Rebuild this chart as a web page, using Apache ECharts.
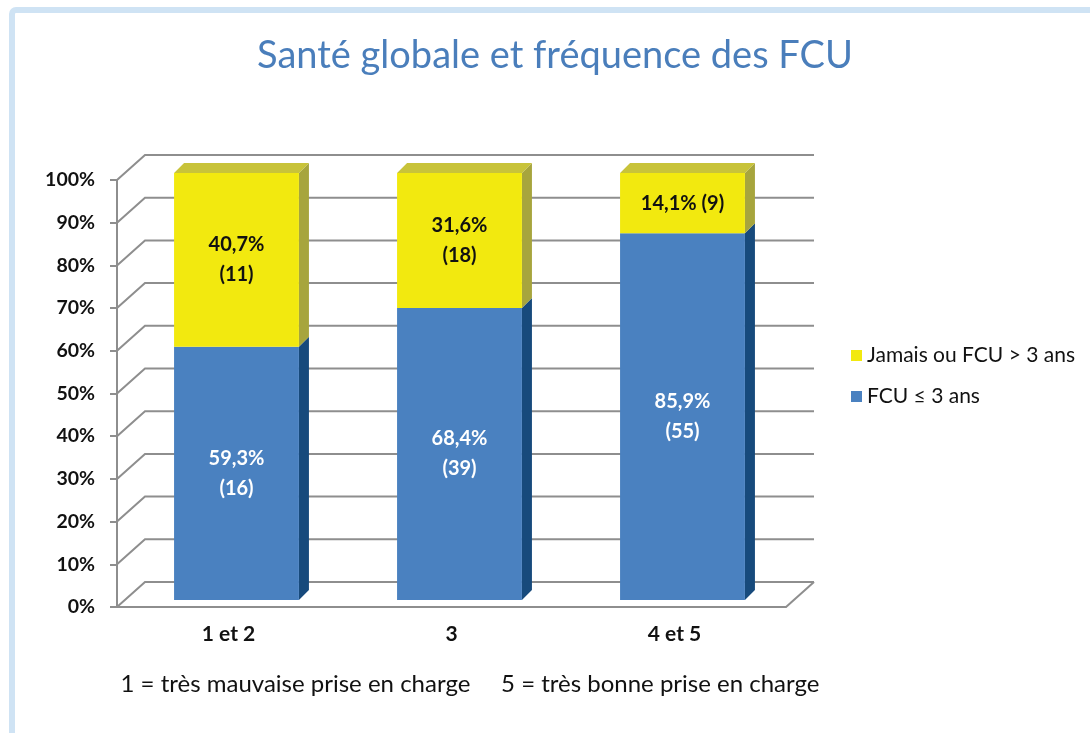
<!DOCTYPE html>
<html>
<head>
<meta charset="utf-8">
<script src="https://cdn.jsdelivr.net/npm/echarts@6/dist/echarts.min.js"></script>
<style>
  html, body { margin: 0; padding: 0; background: #fff; }
  #main { width: 1090px; height: 733px; }
</style>
</head>
<body>
<div id="main"></div>
<script>
// data
let categories = ['1 et 2', '3', '4 et 5']
let pctFcu = [59.3, 68.4, 85.9]      // FCU ≤ 3 ans
let nFcu = [16, 39, 55]
let pctJamais = [40.7, 31.6, 14.1]   // Jamais ou FCU > 3 ans
let nJamais = [11, 18, 9]
let yTicks = [0, 10, 20, 30, 40, 50, 60, 70, 80, 90, 100]

const FONT = 'Lato, "Open Sans", sans-serif'
const GRID = '#8e8e8e'
// depth vectors for the fake 3d look
const WALL_DX = 28, WALL_DY = -25
const BAR_DX = 8, BAR_DY = -7
const SIDE_DX = 10, SIDE_DY = -10

function fmt(v) {
  return v.toFixed(1).replace('.', ',') + '%'
}

// stacked segments : [cat, start, end, pct, n]
let fcuData = []
let jamaisData = []
for (let i = 0; i < categories.length; i++) {
  fcuData.push([i, 0, pctFcu[i], pctFcu[i], nFcu[i]])
  jamaisData.push([i, pctFcu[i], pctFcu[i] + pctJamais[i], pctJamais[i], nJamais[i]])
}

function makeBarRender(front, side, top, textColor, isTop) {
  return function (params, api) {
    let i = api.value(0)
    let lo = api.coord([i, api.value(1)])
    let hi = api.coord([i, api.value(2)])
    let bw = api.size([1, 0])[0] * 0.56
    let x = lo[0] - bw / 2 + BAR_DX
    let yTop = hi[1] + BAR_DY
    let yBot = lo[1] + BAR_DY
    let children = [
      {
        type: 'polygon',
        shape: { points: [[x + bw, yTop], [x + bw + SIDE_DX, yTop + SIDE_DY], [x + bw + SIDE_DX, yBot + SIDE_DY], [x + bw, yBot]] },
        style: { fill: side }
      },
      {
        type: 'rect',
        shape: { x: x, y: yTop, width: bw, height: yBot - yTop },
        style: { fill: front }
      }
    ]
    if (isTop) {
      children.push({
        type: 'polygon',
        shape: { points: [[x, yTop], [x + SIDE_DX, yTop + SIDE_DY], [x + bw + SIDE_DX, yTop + SIDE_DY], [x + bw, yTop]] },
        style: { fill: top }
      })
    }
    let pct = api.value(3)
    let n = api.value(4)
    let txt = pct < 20 ? fmt(pct) + ' (' + n + ')' : fmt(pct) + '\n(' + n + ')'
    children.push({
      type: 'text',
      style: {
        text: txt,
        x: x + bw / 2,
        y: (yTop + yBot) / 2,
        align: 'center',
        verticalAlign: 'middle',
        fill: textColor,
        font: 'bold 20px ' + FONT,
        lineHeight: 30
      }
    })
    return { type: 'group', children: children }
  }
}

let chart = echarts.init(document.getElementById('main'))
let option = {
  backgroundColor: '#fff',
  animation: false,
  title: [
    {
      text: 'Santé globale et fréquence des FCU',
      left: 555,
      top: 37,
      textAlign: 'center',
      padding: 0,
      textStyle: { color: '#4a7ebb', fontFamily: FONT, fontWeight: 'normal', fontSize: 38 }
    },
    {
      text: '1 = très mauvaise prise en charge     5 = très bonne prise en charge',
      left: 470,
      top: 672,
      textAlign: 'center',
      padding: 0,
      textStyle: { color: '#111', fontFamily: FONT, fontWeight: 'normal', fontSize: 24 }
    }
  ],
  legend: {
    orient: 'vertical',
    left: 846,
    top: 340,
    itemGap: 20,
    itemWidth: 11,
    itemHeight: 11,
    icon: 'rect',
    data: ['Jamais ou FCU > 3 ans', 'FCU ≤ 3 ans'],
    textStyle: { color: '#111', fontFamily: FONT, fontSize: 21 }
  },
  grid: { left: 117, right: 304, top: 180, bottom: 126 },
  xAxis: {
    type: 'category',
    data: categories,
    axisLine: { lineStyle: { color: GRID, width: 2 } },
    axisTick: { length: 7, lineStyle: { color: GRID, width: 2 } },
    axisLabel: { color: '#111', fontFamily: FONT, fontWeight: 'bold', fontSize: 21, margin: 17 }
  },
  yAxis: {
    type: 'value',
    min: 0,
    max: 100,
    interval: 10,
    axisLine: { show: true, lineStyle: { color: GRID, width: 2 } },
    axisTick: { show: true, length: 7, lineStyle: { color: GRID, width: 2 } },
    splitLine: { show: false },
    axisLabel: { formatter: '{value}%', color: '#111', fontFamily: FONT, fontWeight: 'bold', fontSize: 19.5, margin: 22 }
  },
  series: [
    {
      name: 'wall',
      type: 'custom',
      silent: true,
      clip: false,
      z: 1,
      data: yTicks.map(v => [0, v]),
      renderItem: function (params, api) {
        let p = api.coord([0, api.value(1)])
        let cs = params.coordSys
        let x0 = cs.x, x1 = cs.x + cs.width, y = p[1]
        let children = [{
          type: 'polyline',
          shape: { points: [[x0, y], [x0 + WALL_DX, y + WALL_DY], [x1 + WALL_DX, y + WALL_DY]] },
          style: { stroke: GRID, lineWidth: 2, fill: null }
        }]
        if (api.value(1) === 0) {
          children.push({
            type: 'line',
            shape: { x1: x1, y1: y, x2: x1 + WALL_DX, y2: y + WALL_DY },
            style: { stroke: GRID, lineWidth: 2 }
          })
        }
        return { type: 'group', children: children }
      }
    },
    {
      name: 'FCU ≤ 3 ans',
      type: 'custom',
      clip: false,
      z: 3,
      itemStyle: { color: '#4a81c0' },
      data: fcuData,
      renderItem: makeBarRender('#4a81c0', '#174a7c', '#3a6aa0', '#fff', false)
    },
    {
      name: 'Jamais ou FCU > 3 ans',
      type: 'custom',
      clip: false,
      z: 3,
      itemStyle: { color: '#f2e90f' },
      data: jamaisData,
      renderItem: makeBarRender('#f2e90f', '#a7a53d', '#c8c33a', '#111', true)
    }
  ],
  graphic: [
    {
      type: 'rect',
      silent: true,
      z: -1,
      shape: { x: 12, y: 10, width: 1200, height: 900, r: 4 },
      style: { fill: null, stroke: '#cfe3f4', lineWidth: 6 }
    }
  ]
}
chart.setOption(option)
</script>
</body>
</html>
